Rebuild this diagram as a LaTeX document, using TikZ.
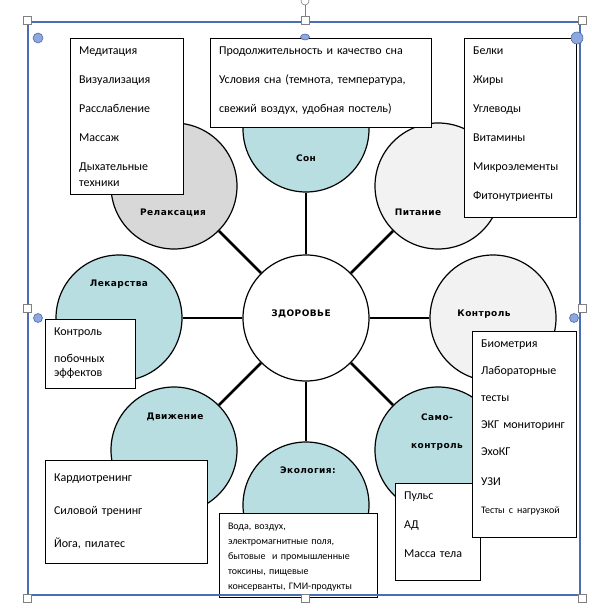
\documentclass[tikz,border=0pt]{standalone}
\usepackage{fontspec}
\setmainfont{Carlito}
\newfontfamily\spacedfont[LetterSpace=5]{DejaVu Sans}
\usetikzlibrary{positioning}

\definecolor{tealfill}{RGB}{184,222,226}
\definecolor{relaxfill}{RGB}{216,216,216}
\definecolor{lightfill}{RGB}{242,242,242}
\definecolor{frameblue}{RGB}{74,110,180}
\definecolor{handleblue}{RGB}{143,168,220}

\tikzset{
  topic/.style={draw, circle, line width=1.2pt, minimum size=126pt, inner sep=0pt},
  spoke/.style={line width=2.6pt},
  topiclabel/.style={font=\spacedfont\bfseries\fontsize{9}{11}\selectfont, align=center},
  listbox/.style={draw, line width=1.1pt, fill=white, anchor=north west, align=left,
    inner xsep=8.5pt, inner ysep=0pt, font=\fontsize{12}{16}\selectfont},
}

\begin{document}
\begin{tikzpicture}[x=1pt, y=-1pt]
  \useasboundingbox (0,0) rectangle (591,609);

  % Circles
  \node [topic, fill=white] (health) at (306,318) {};
  \node [topic, fill=tealfill, on grid, above=189pt of health] (sleep) {};
  \node [topic, fill=lightfill, on grid, above right=132pt and 132pt of health] (food) {};
  \node [topic, fill=lightfill, on grid, right=187pt of health] (control) {};
  \node [topic, fill=tealfill, on grid, below right=132pt and 132pt of health] (selfcontrol) {};
  \node [topic, fill=tealfill, on grid, below=187pt of health] (ecology) {};
  \node [topic, fill=tealfill, on grid, below left=132pt and 132pt of health] (movement) {};
  \node [topic, fill=tealfill, on grid, left=187pt of health] (drugs) {};
  \node [topic, fill=relaxfill, on grid, above left=132pt and 132pt of health] (relax) {};

  % Spokes
  \foreach \outer in {sleep, food, control, selfcontrol, ecology, movement, drugs, relax}
    \draw [spoke] (health) -- (\outer);

  % Circle labels
  \node [topiclabel, xshift=-5pt, yshift=4pt] (health_text) at (health) {ЗДОРОВЬЕ};
  \node [topiclabel, yshift=-29pt] (sleep_text) at (sleep) {Сон};
  \node [topiclabel, xshift=-20pt, yshift=-26pt] (food_text) at (food) {Питание};
  \node [topiclabel, xshift=-9pt, yshift=4pt] (control_text) at (control) {Контроль};
  \node [topiclabel, xshift=-1pt, yshift=18pt] (selfcontrol_text) at (selfcontrol) {Само-\\[17pt]контроль};
  \node [topiclabel, xshift=2pt, yshift=35pt] (ecology_text) at (ecology) {Экология:};
  \node [topiclabel, xshift=1pt, yshift=33pt] (movement_text) at (movement) {Движение};
  \node [topiclabel, yshift=34pt] (drugs_text) at (drugs) {Лекарства};
  \node [topiclabel, xshift=-1pt, yshift=-27pt] (relax_text) at (relax) {Релаксация};

  % Boxes
  \node [listbox, text width=96pt, text height=16pt, text depth=140pt] (relax_box) at (70,38)
    {Медитация\\[13pt]Визуализация\\[13pt]Расслабление\\[13pt]Массаж\\[13pt]Дыхательные\\техники};
  \node [listbox, text width=204pt, text height=16pt, text depth=73pt] (sleep_box) at (210,38)
    {Продолжительность и качество сна\\[13pt]Условия сна (темнота, температура,\\[13pt]свежий воздух, удобная постель)};
  \node [listbox, text width=95pt, text height=16pt, text depth=163pt] (food_box) at (464,38)
    {Белки\\[13pt]Жиры\\[13pt]Углеводы\\[13pt]Витамины\\[13pt]Микроэлементы\\[13pt]Фитонутриенты};
  \node [listbox, text width=73pt, text height=16pt, text depth=53pt] (drugs_box) at (45,319)
    {Контроль\\[11pt]побочных\\[-2pt]эффектов};
  \node [listbox, text width=68pt, text height=16pt, text depth=81pt] (selfcontrol_box) at (395,483)
    {Пульс\\[13pt]АД\\[13pt]Масса тела};
  \node [listbox, text width=87pt, text height=16pt, text depth=190pt] (control_box) at (472,331)
    {Биометрия\\[11pt]Лабораторные\\[11pt]тесты\\[11pt]ЭКГ мониторинг\\[11pt]ЭхоКГ\\[14pt]УЗИ\\[12pt]{\fontsize{10}{12}\selectfont Тесты с нагрузкой}};
  \node [listbox, text width=145pt, text height=21pt, text depth=82pt] (movement_box) at (45,460)
    {Кардиотренинг\\[17pt]Силовой тренинг\\[17pt]Йога, пилатес};
  \node [listbox, text width=141pt, text height=15.5pt, text depth=68.5pt,
    font=\fontsize{10}{15}\selectfont] (ecology_box) at (219,513)
    {Вода, воздух,\\электромагнитные поля,\\бытовые~ и промышленные\\токсины, пищевые\\консерванты, ГМИ-продукты};

  % Frame and handles
  \draw [frameblue, line width=1.6pt] (28,22) rectangle (580,595);
  \draw [gray] (305,16) -- (305,5);
  \draw [gray, fill=white, line width=0.6pt] (305,1) circle (4pt);
  \foreach \hx/\hy in {27/20, 305/20, 582/20, 27/308, 582/308, 27/598, 305/598, 582/598}
    \draw [gray, fill=white, line width=0.6pt] (\hx-4,\hy-4) rectangle (\hx+4,\hy+4);
  \foreach \hx/\hy/\hr in {38/38/5, 577/38/6, 38/318/4.5, 574/318/4.5}
    \draw [frameblue, fill=handleblue, line width=0.6pt] (\hx,\hy) circle (\hr pt);
  \draw [frameblue, fill=handleblue, line width=0.6pt] (305,37) ellipse (4.5pt and 3pt);
\end{tikzpicture}
\end{document}
